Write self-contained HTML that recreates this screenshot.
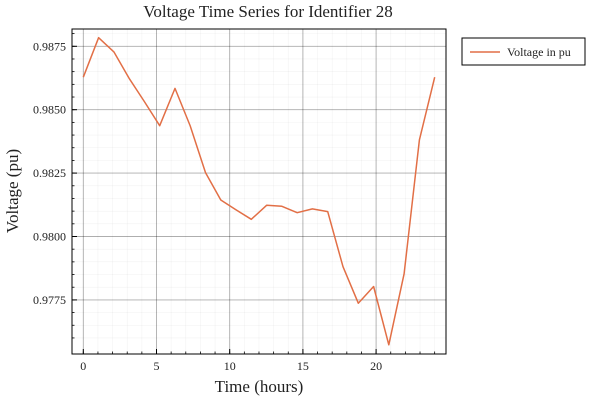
<!DOCTYPE html>
<html><head><meta charset="utf-8"><style>
body{margin:0;background:#fff;}
svg text{font-family:"Liberation Serif","DejaVu Serif",serif;fill:#222;}
</style></head><body>
<svg id="chart" width="600" height="400" xmlns="http://www.w3.org/2000/svg">
<g id="grid"></g>
<g id="axes"></g>
<polyline id="series" fill="none" stroke="#e26f46" stroke-width="1.5" stroke-linejoin="round"/>
<rect x="72" y="29" width="374" height="325" fill="none" stroke="#000" stroke-width="1"/>
<text x="268" y="17" font-size="17" text-anchor="middle">Voltage Time Series for Identifier 28</text>
<text x="259" y="392" font-size="17" text-anchor="middle">Time (hours)</text>
<text transform="translate(18,191) rotate(-90)" font-size="17" text-anchor="middle">Voltage (pu)</text>
<g>
<rect x="462" y="38" width="123" height="27" fill="#fff" stroke="#000" stroke-width="1"/>
<line x1="470" y1="52" x2="500" y2="52" stroke="#e26f46" stroke-width="1.5"/>
<text x="507" y="56" font-size="12">Voltage in pu</text>
</g>
</svg>
<script>
const hours = [];
for (let i = 0; i < 24; i++) hours.push(i * 24 / 23);
const voltages = [0.98628,0.98784,0.98728,0.98624,0.98532,0.98437,0.98584,0.98436,0.98252,0.98144,0.98105,0.98068,0.98123,0.98119,0.98094,0.98109,0.98098,0.97881,0.97737,0.97803,0.97573,0.97853,0.98381,0.98628];
const xTicks = [0,5,10,15,20];
const yTicks = [0.9775,0.9800,0.9825,0.9850,0.9875];
const yTickLabels = ["0.9775","0.9800","0.9825","0.9850","0.9875"];

const X0=83.3, XS=14.64, Y0=46.3, YS=63.4/0.0025;
const L=72,R=446,T=29,B=354;
function xs(v){return X0+v*XS;}
function ys(v){return Y0-(v-0.9875)*YS;}
const NS="http://www.w3.org/2000/svg";
const grid=document.getElementById('grid'), axes=document.getElementById('axes');
function mk(tag,attrs,parent){const e=document.createElementNS(NS,tag);for(const k in attrs)e.setAttribute(k,attrs[k]);parent.appendChild(e);return e;}
// minor grid
for(let v=-1;v<=25;v+=1){const x=xs(v);if(x<L||x>R)continue;
 const g=mk('line',{x1:x,x2:x,y1:T,y2:B,stroke:'#000','stroke-opacity':0.05,'stroke-width':0.6},grid);
 
 const t=mk('line',{x1:x,x2:x,y1:B,y2:B-2.5,stroke:'#000','stroke-width':0.8},axes);
 }
for(let v=0.9760;v<=0.9890;v+=0.0005){const y=ys(v);if(y<T||y>B)continue;
 const g=mk('line',{x1:L,x2:R,y1:y,y2:y,stroke:'#000','stroke-opacity':0.05,'stroke-width':0.6},grid);
 
 const t=mk('line',{x1:L,x2:L+2.5,y1:y,y2:y,stroke:'#000','stroke-width':0.8},axes);
 }
xTicks.forEach(v=>{const x=xs(v);
 const g=mk('line',{x1:x,x2:x,y1:T,y2:B,stroke:'#000','stroke-opacity':0.3,'stroke-width':0.9},grid);
 
 const t=mk('line',{x1:x,x2:x,y1:B,y2:B-5,stroke:'#000','stroke-width':1},axes);
 
 const l=mk('text',{x:x,y:B+16,'font-size':12,'text-anchor':'middle'},axes);l.textContent=v;
 });
yTicks.forEach((v,i)=>{const y=ys(v);
 const g=mk('line',{x1:L,x2:R,y1:y,y2:y,stroke:'#000','stroke-opacity':0.3,'stroke-width':0.9},grid);
 
 const t=mk('line',{x1:L,x2:L+5,y1:y,y2:y,stroke:'#000','stroke-width':1},axes);
 
 const l=mk('text',{x:L-6,y:y+4,'font-size':12,'text-anchor':'end'},axes);l.textContent=yTickLabels[i];
 });
document.getElementById('series').setAttribute('points',voltages.map((v,i)=>xs(hours[i]).toFixed(1)+','+ys(v).toFixed(1)).join(' '));
</script>
</body></html>
